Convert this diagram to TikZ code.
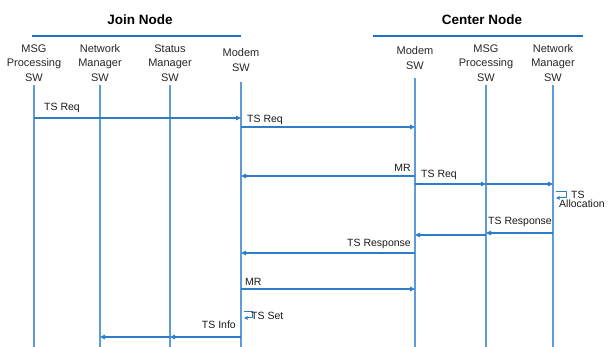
\documentclass[tikz,border=0pt]{standalone}
\usepackage{fontspec}
\setmainfont{Liberation Sans}
\usetikzlibrary{positioning,arrows.meta}
\definecolor{barblue}{RGB}{30,112,192}
\definecolor{lineblue}{RGB}{95,155,215}
\definecolor{msgblue}{RGB}{45,125,200}
\tikzset{
	head/.style={%
		align=center,
		font=\fontsize{11}{14.5}\selectfont,
		text=black!85,
		inner sep=0pt
	},
	title/.style={font=\fontsize{13.5}{15}\selectfont\bfseries, inner sep=0pt},
	bar/.style={barblue, line width=2.6pt},
	lifeline/.style={lineblue, line width=1.1pt},
	msg/.style={msgblue, line width=1.2pt, -{Triangle[length=5pt,width=4.5pt]}},
	msglabel/.style={font=\fontsize{10.5}{12}\selectfont, text=black!90, inner sep=0pt},
	>=Triangle
}
\begin{document}
\begin{tikzpicture}[x=1pt,y=-1pt]
		\useasboundingbox (0,0) rectangle (611,347);
		
		% Node titles
		\node[title] (join) at (140,20) {Join Node};
		\node[title] (center) at (482,20) {Center Node};
		\draw[bar] (32,36) -- (241,36);
		\draw[bar] (373,36) -- (583,36);
		
		% Lifeline heads
		\node[head] (jmsg) at (34,63) {MSG\\Processing\\SW};
		\node[head] (jnet) at (100,63) {Network\\Manager\\SW};
		\node[head] (jstat) at (170,63) {Status\\Manager\\SW};
		\node[head] (jmodem) at (241,60) {Modem\\SW};
		\node[head] (cmodem) at (415,58) {Modem\\SW};
		\node[head] (cmsg) at (486,63) {MSG\\Processing\\SW};
		\node[head] (cnet) at (553,63) {Network\\Manager\\SW};
		
		% Lifelines
		\draw[lifeline] (jmsg |- 0,85) -- (jmsg |- 0,347);
		\draw[lifeline] (jnet |- 0,85) -- (jnet |- 0,347);
		\draw[lifeline,line width=1.8pt] (jstat |- 0,85) -- (jstat |- 0,347);
		\draw[lifeline] (jmodem |- 0,82) -- (jmodem |- 0,347);
		\draw[lifeline] (cmodem |- 0,78) -- (cmodem |- 0,347);
		\draw[lifeline] (cmsg |- 0,85) -- (cmsg |- 0,347);
		\draw[lifeline] (cnet |- 0,85) -- (cnet |- 0,347);
		
		% Messages
		\draw[msg] (jmsg |- 0,118) -- (jmodem |- 0,118);
		\node[msglabel,anchor=west] (req1) at (44,108) {TS Req};
		
		\draw[msg] (jmodem |- 0,127) -- (cmodem |- 0,127);
		\node[msglabel,anchor=west] (req2) at (247,120) {TS Req};
		
		\draw[msg] (cmodem |- 0,176) -- (jmodem |- 0,176);
		\node[msglabel,anchor=east] (mr1) at (411,168) {MR};
		
		\draw[msg] (cmodem |- 0,184) -- (cmsg |- 0,184);
		\draw[msg] (cmsg |- 0,184) -- (cnet |- 0,184);
		\node[msglabel,anchor=west] (req3) at (421,175) {TS Req};
		
		% self message at network manager
		\draw[msg,line width=1pt,-{Triangle[length=3.5pt,width=3.5pt]}] ([xshift=3pt]cnet |- 0,192) -| (566,198) -- ([xshift=3pt]cnet |- 0,198);
		\node[msglabel,anchor=north west,align=left] (alloc) at (559,191) {\hspace{12pt}TS\\[-3pt]Allocation};
		
		\draw[msg] (cnet |- 0,233) -- (cmsg |- 0,233);
		\draw[msg] (cmsg |- 0,235) -- (cmodem |- 0,235);
		\node[msglabel,anchor=east] (resp1) at (552,222) {TS Response};
		
		\draw[msg] (cmodem |- 0,253) -- (jmodem |- 0,253);
		\node[msglabel,anchor=east] (resp2) at (411,244) {TS Response};
		
		\draw[msg] (jmodem |- 0,289) -- (cmodem |- 0,289);
		\node[msglabel,anchor=west] (mr2) at (245,282) {MR};
		
		% self message at modem
		\draw[msg,line width=1pt,-{Triangle[length=3.5pt,width=3.5pt]}] ([xshift=3pt]jmodem |- 0,312) -| (252,318) -- ([xshift=3pt]jmodem |- 0,318);
		\node[msglabel,anchor=west] (set) at (251,316) {TS Set};
		
		\draw[msg] (jmodem |- 0,337) -- (jstat |- 0,337);
		\draw[msg] (jstat |- 0,337) -- (jnet |- 0,337);
		\node[msglabel,anchor=east] (info) at (236,325) {TS Info};
		
\end{tikzpicture}
\end{document}
